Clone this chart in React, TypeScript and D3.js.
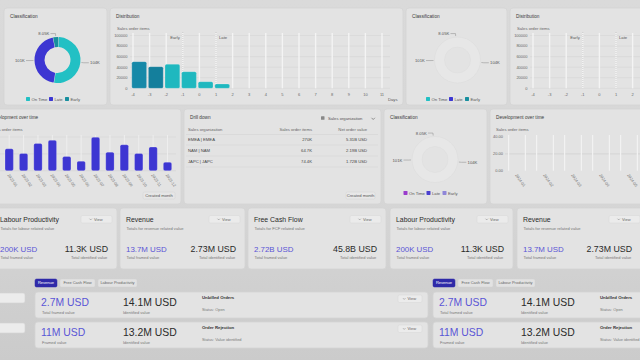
import React from "react";
import * as d3 from "d3";

const FONT = "'Liberation Sans', Arial, Helvetica, sans-serif";

// ---------- data ----------
const classLabels = ["On Time", "Late", "Early"];
const classValues = [104000, 88900, 8050];
const classValueText = ["104K", "101K", "8.05K"];

const distDays = [-4, -3, -2, -1, 0, 1];
const distItems = [50500, 41000, 45500, 31500, 12500, 8200];
const distTickDays = [-4, -3, -2, -1, 0, 1, 2, 3, 4, 5, 6, 7, 8, 9, 10, 11];
const distYTicks = [0, 20000, 40000, 60000, 80000, 100000];
const distMarkers = ["Early", "Late"];
const distMarkerDays = [-1, 1];

const devMonths = ["2023-01", "2023-02", "2023-03", "2023-04", "2023-05", "2023-06", "2023-07", "2023-08", "2023-09", "2023-10", "2023-11", "2023-12"];
const devItems = [26, 20.4, 32.4, 36, 16.8, 11.2, 39.6, 22, 30.8, 20.4, 28, 10];
const devYTicks = [0, 20, 40];
const ghostMonths = ["2024-01", "2024-02", "2024-03", "2024-04", "2024-05"];

const drillHeaders = ["Sales organization", "Sales order items", "Net order value"];
const drillOrgs = ["EMEA | EMEA", "NAM | NAM", "JAPC | JAPC"];
const drillItems = ["270K", "64.7K", "74.4K"];
const drillValues = ["5.31B USD", "2.19B USD", "1.72B USD"];

const kpiTitles = ["Labour Productivity", "Revenue", "Free Cash Flow", "Labour Productivity", "Revenue"];
const kpiSubtitles = ["Totals for labour related value", "Totals for revenue related value", "Totals for FCF related value", "Totals for labour related value", "Totals for revenue related value"];
const kpiFramed = ["200K USD", "13.7M USD", "2.72B USD", "200K USD", "13.7M USD"];
const kpiIdentified = ["11.3K USD", "2.73M USD", "45.8B USD", "11.3K USD", "2.73M USD"];

const tabLabels = ["Revenue", "Free Cash Flow", "Labour Productivity"];
const orderFramed = ["2.7M USD", "11M USD"];
const orderFramedLabels = ["Total framed value", "Framed value"];
const orderIdentified = ["14.1M USD", "13.2M USD"];
const orderTitles = ["Unbilled Orders", "Order Rejection"];
const orderStatus = ["Status: Open", "Status: Value identified"];

// ---------- styles ----------
const TEAL = "#22c0c4";
const INDIGO = "#3d36d2";
const DTEAL = "#188f9e";
const PANEL = "#e3e3e3";
const PANEL_STROKE = "#d4d4d4";
const TXT = "#3a3a3a";
const SUB = "#777";

function Panel({ x, y, w, h, title }: any) {
  return (
    <g>
      <rect x={x} y={y} width={w} height={h} rx={3} fill={PANEL} stroke={PANEL_STROKE} strokeWidth={0.8} />
      {title ? (
        <text x={x + 6} y={y + 9.5} fontSize={4.7} fill={TXT}>{title}</text>
      ) : null}
    </g>
  );
}

const pie = d3.pie<number>().sort(null).startAngle(0.05).endAngle(0.05 + 2 * Math.PI);
const arcGen = d3.arc<any>().innerRadius(13).outerRadius(23).padAngle(0.015).cornerRadius(0.6);

function Donut({ dx, dy, legendY, ghost, colors }: any) {
  const cx = 57.5 + dx;
  const cy = 60 + dy;
  const arcs = pie(classValues);
  const legendX = [26, 49, 65];
  const order = [2, 1, 0];
  return (
    <g>
      {ghost ? (
        <g>
          <circle cx={cx} cy={cy} r={18} fill="none" stroke="#e7e7e7" strokeWidth={10} />
          <circle cx={cx} cy={cy} r={23} fill="none" stroke="#dadada" strokeWidth={0.5} />
          <circle cx={cx} cy={cy} r={13} fill="none" stroke="#dcdcdc" strokeWidth={0.5} />
        </g>
      ) : (
        arcs.map((a, i) => (
          <path key={i} d={arcGen(a) as string} transform={`translate(${cx},${cy})`} fill={colors[i]} />
        ))
      )}
      {order.map((i) => {
        const a = arcs[i];
        const mid = (a.startAngle + a.endAngle) / 2;
        const s = Math.sin(mid);
        const c = -Math.cos(mid);
        const p1 = [cx + 24 * s, cy + 24 * c];
        const p2 = [cx + 26.5 * s, cy + 26.5 * c];
        const dir = s >= 0 ? 1 : -1;
        const p3 = [p2[0] + dir * 5, p2[1]];
        return (
          <g key={i}>
            <path d={`M${p1[0]},${p1[1]}L${p2[0]},${p2[1]}L${p3[0]},${p3[1]}`} fill="none" stroke="#888" strokeWidth={0.5} />
            <text x={p3[0] + dir * 1.2} y={p3[1] + 1.5} fontSize={4.2} fill="#555" textAnchor={dir > 0 ? "start" : "end"}>{classValueText[i]}</text>
          </g>
        );
      })}
      {classLabels.map((l, i) => (
        <g key={l}>
          <rect x={legendX[i] + dx} y={legendY - 3.6} width={4} height={4} rx={0.6} fill={colors[i]} />
          <text x={legendX[i] + dx + 5.5} y={legendY} fontSize={4.2} fill="#555">{l}</text>
        </g>
      ))}
    </g>
  );
}

function Distribution({ dx, ghost }: any) {
  const x = d3.scaleLinear().domain([-4, 11]).range([133 + dx, 382 + dx]);
  const y = d3.scaleLinear().domain([0, 100000]).range([88.3, 35.5]);
  const ticks = distTickDays.filter((d) => x(d) < 636);
  return (
    <g>
      <text x={117 + dx} y={29.5} fontSize={4.2} fill="#666">Sales order items</text>
      {distYTicks.map((t) => (
        <g key={t}>
          <line x1={130 + dx} x2={Math.min(390 + dx, 640)} y1={y(t)} y2={y(t)} stroke="#d3d3d3" strokeWidth={0.5} />
          <text x={127.5 + dx} y={y(t) + 1.4} fontSize={4} fill="#666" textAnchor="end">{t}</text>
        </g>
      ))}
      {distTickDays.map((d) => (
        <line key={d} x1={x(d)} x2={x(d)} y1={33} y2={88.3} stroke="#f4f4f4" strokeWidth={1.4} />
      ))}
      {ticks.map((d) => (
        <text key={d} x={x(d)} y={96} fontSize={4} fill="#666" textAnchor="middle">{d}</text>
      ))}
      {distMarkers.map((m, i) => (
        <g key={m}>
          <line x1={x(distMarkerDays[i])} x2={x(distMarkerDays[i])} y1={32} y2={88.3} stroke="#b8b8b8" strokeWidth={0.6} strokeDasharray="1,1" />
          <text x={x(distMarkerDays[i]) + (i === 0 ? -3 : 3)} y={39} fontSize={4.2} fill="#555" textAnchor={i === 0 ? "end" : "start"}>{m}</text>
        </g>
      ))}
      {!ghost &&
        distDays.map((d, i) => (
          <rect key={d} x={x(d) - 1.2} y={y(distItems[i])} width={x(d + 1) - x(d) - 1.8} height={y(0) - y(distItems[i])} rx={1.5} fill={i < 2 ? (i === 0 ? "#1689a8" : "#147f9c") : "#1fb8bf"} stroke="#ffffff" strokeOpacity={0.5} strokeWidth={0.4} />
        ))}
      {!ghost && <text x={388 + dx} y={101} fontSize={4.2} fill="#555">Days</text>}
    </g>
  );
}

function DevLeft() {
  const x = d3.scaleBand<string>().domain(devMonths).range([2, 174.7]).paddingInner(0.42).paddingOuter(0.21);
  const y = d3.scaleLinear().domain([0, 40]).range([170.7, 137]);
  return (
    <g>
      <text x={-10} y={131} fontSize={4.2} fill="#666">Sales order items</text>
      {devYTicks.map((t) => (
        <line key={t} x1={0} x2={176} y1={y(t)} y2={y(t)} stroke="#d0d0d0" strokeWidth={0.5} />
      ))}
      {devMonths.map((m, i) => {
        const cx = (x(m) as number) + x.bandwidth() / 2;
        return (
          <g key={m}>
            <line x1={cx} x2={cx} y1={135} y2={170.7} stroke="#eeeeee" strokeWidth={1} />
            <rect x={x(m)} y={y(devItems[i])} width={x.bandwidth()} height={y(0) - y(devItems[i])} rx={1.6} fill={INDIGO} stroke="#ffffff" strokeOpacity={0.5} strokeWidth={0.4} />
            <text transform={`translate(${cx - 2},${175}) rotate(55)`} fontSize={4} fill="#777">{m}</text>
          </g>
        );
      })}
      <rect x={143} y={192} width={32} height={7} rx={1.5} fill="#e6e6e6" stroke="#d2d2d2" strokeWidth={0.5} />
      <text x={159} y={196.8} fontSize={4.2} fill="#555" textAnchor="middle">Created month</text>
    </g>
  );
}

function DevGhost() {
  const x = d3.scaleBand<string>().domain(ghostMonths).range([503, 643]).paddingInner(0.4).paddingOuter(0.2);
  const y = d3.scaleLinear().domain([0, 40]).range([170.7, 137]);
  return (
    <g>
      <text x={496} y={131} fontSize={4.2} fill="#666">Sales order items</text>
      {devYTicks.map((t) => (
        <g key={t}>
          {t === 20 && <line x1={505} x2={640} y1={y(t)} y2={y(t)} stroke="#c9c9c9" strokeWidth={0.5} />}
          <text x={503} y={y(t) + 1.4} fontSize={4} fill="#666" textAnchor="end">{t.toFixed(2)}</text>
        </g>
      ))}
      {ghostMonths.map((m) => {
        const x0 = x(m) as number;
        const cx = x0 + x.bandwidth() / 2;
        return (
          <g key={m}>
            <line x1={x0} x2={x0} y1={135} y2={170.7} stroke="#f2f2f2" strokeWidth={1.2} />
            <line x1={x0 + x.bandwidth()} x2={x0 + x.bandwidth()} y1={135} y2={170.7} stroke="#f2f2f2" strokeWidth={1.2} />
            <text transform={`translate(${cx - 2},${175}) rotate(55)`} fontSize={4} fill="#777">{m}</text>
          </g>
        );
      })}
    </g>
  );
}

function Drill() {
  const colX = [188, 312, 367];
  const rowY = [141, 152, 163];
  return (
    <g>
      <rect x={321} y={116.3} width={3.5} height={3.5} rx={0.5} fill="#888" />
      <text x={328} y={119.5} fontSize={4.2} fill="#555">Sales organization</text>
      <path d="M371.5,117.8 L373.2,119.5 L374.9,117.8" fill="none" stroke="#555" strokeWidth={0.6} />
      <text x={colX[0]} y={131} fontSize={4.2} fill="#666">{drillHeaders[0]}</text>
      <text x={colX[1]} y={131} fontSize={4.2} fill="#666" textAnchor="end">{drillHeaders[1]}</text>
      <text x={colX[2]} y={131} fontSize={4.2} fill="#666" textAnchor="end">{drillHeaders[2]}</text>
      <line x1={186} x2={378} y1={134.5} y2={134.5} stroke="#d0d0d0" strokeWidth={0.5} />
      {drillOrgs.map((o, i) => (
        <g key={o}>
          <text x={colX[0]} y={rowY[i]} fontSize={4.2} fill="#444">{o}</text>
          <text x={colX[1]} y={rowY[i]} fontSize={4.2} fill="#444" textAnchor="end">{drillItems[i]}</text>
          <text x={colX[2]} y={rowY[i]} fontSize={4.2} fill="#444" textAnchor="end">{drillValues[i]}</text>
          <line x1={186} x2={378} y1={rowY[i] + 4} y2={rowY[i] + 4} stroke="#d3d3d3" strokeWidth={0.5} />
        </g>
      ))}
      <rect x={346} y={192} width={29} height={7} rx={1.5} fill="#e8e8e8" stroke="#d2d2d2" strokeWidth={0.5} />
      <text x={360.5} y={196.8} fontSize={4.2} fill="#555" textAnchor="middle">Created month</text>
    </g>
  );
}

function ViewButton({ x, y, w }: any) {
  return (
    <g>
      <rect x={x} y={y} width={w} height={7.5} rx={1.5} fill="#ebebeb" stroke="#d6d6d6" strokeWidth={0.5} />
      <path d={`M${x + w / 2 - 7},${y + 3.2} L${x + w / 2 - 5.8},${y + 4.4} L${x + w / 2 - 4.6},${y + 3.2}`} fill="none" stroke="#777" strokeWidth={0.5} />
      <text x={x + w / 2 - 2.5} y={y + 5.1} fontSize={4} fill="#666">View</text>
    </g>
  );
}

function KpiRow() {
  const xs = [-6, 120, 248, 390, 517];
  const ws = [123, 125, 138, 123, 128];
  return (
    <g>
      {kpiTitles.map((t, i) => {
        const x0 = xs[i];
        const w = ws[i];
        const right = Math.min(x0 + w - 9, 632);
        return (
          <g key={i}>
            <rect x={x0} y={208} width={w} height={61} rx={3} fill={PANEL} stroke={PANEL_STROKE} strokeWidth={0.8} />
            <text x={x0 + 6} y={222} fontSize={6.9} fill="#2a2a2a">{t}</text>
            <text x={x0 + 6.5} y={230} fontSize={4.1} fill={SUB}>{kpiSubtitles[i]}</text>
            <ViewButton x={x0 + w - 36} y={215.5} w={31} />
            <text x={x0 + 6} y={251.5} fontSize={7.9} fill="#5a55d6">{kpiFramed[i]}</text>
            <text x={x0 + 6.5} y={259} fontSize={4} fill={SUB}>Total framed value</text>
            <text x={right} y={251.5} fontSize={8.8} fill="#2a2a2a" textAnchor="end">{kpiIdentified[i]}</text>
            <text x={right - 37} y={259} fontSize={4} fill={SUB}>Total identified value</text>
          </g>
        );
      })}
    </g>
  );
}

function OrderGroup({ gx, right }: any) {
  const tabW = [22, 35, 39];
  let tx = gx;
  const tabs = tabLabels.map((l, i) => {
    const x0 = tx;
    tx += tabW[i] + 3;
    return (
      <g key={l}>
        <rect x={x0} y={279} width={tabW[i]} height={8} rx={1.5} fill={i === 0 ? "#2f2aa8" : "#e2e2e2"} stroke={i === 0 ? "#2f2aa8" : "#d0d0d0"} strokeWidth={0.5} />
        <text x={x0 + tabW[i] / 2} y={284.3} fontSize={4} fill={i === 0 ? "#ffffff" : "#666"} textAnchor="middle">{l}</text>
      </g>
    );
  });
  const rowY = [292, 322];
  return (
    <g>
      {tabs}
      {orderFramed.map((v, i) => (
        <g key={i}>
          <rect x={gx} y={rowY[i]} width={right - gx} height={26} rx={3} fill={PANEL} stroke={PANEL_STROKE} strokeWidth={0.8} />
          <text x={gx + 6} y={rowY[i] + 13.5} fontSize={10.4} fill="#5a55d6">{v}</text>
          <text x={gx + 7} y={rowY[i] + 21.5} fontSize={4} fill={SUB}>{orderFramedLabels[i]}</text>
          <text x={gx + 88} y={rowY[i] + 13.5} fontSize={10.4} fill="#2a2a2a">{orderIdentified[i]}</text>
          <text x={gx + 88} y={rowY[i] + 21.5} fontSize={4} fill={SUB}>Identified value</text>
          <text x={gx + 167} y={rowY[i] + 6.5} fontSize={4.3} fill="#333" fontWeight={700}>{orderTitles[i]}</text>
          <text x={gx + 167} y={rowY[i] + 19} fontSize={3.9} fill={SUB}>{orderStatus[i]}</text>
          {right < 600 && <ViewButton x={right - 30} y={rowY[i] + 3} w={24} />}
        </g>
      ))}
    </g>
  );
}

export default function App() {
  return (
    <div style={{ position: "fixed", left: 0, top: 0, width: 640, height: 360, overflow: "hidden" }}>
      <svg width={640} height={360} viewBox="0 0 640 360" style={{ display: "block", fontFamily: FONT }}>
        <defs>
          <linearGradient id="bg" x1="0" y1="0" x2="0" y2="1">
            <stop offset="0" stopColor="#dadada" />
            <stop offset="0.55" stopColor="#d6d6d6" />
            <stop offset="1" stopColor="#cbcbcb" />
          </linearGradient>
        </defs>
        <rect x={0} y={0} width={640} height={360} fill="url(#bg)" />

        {/* Row 1 */}
        <Panel x={4} y={8} w={103} h={97} title="Classification" />
        <Donut dx={0} dy={0} legendY={100.5} ghost={false} colors={[TEAL, INDIGO, DTEAL]} />
        <Panel x={110} y={8} w={293} h={97} title="Distribution" />
        <Distribution dx={0} ghost={false} />
        <Panel x={406} y={8} w={101} h={97} title="Classification" />
        <Donut dx={400} dy={0} legendY={100.5} ghost={true} colors={[TEAL, INDIGO, DTEAL]} />
        <Panel x={510} y={8} w={140} h={97} title="Distribution" />
        <Distribution dx={400} ghost={true} />

        {/* Row 2 */}
        <Panel x={-20} y={109} w={201} h={95} />
        <text x={-10} y={118.5} fontSize={4.7} fill={TXT}>Development over time</text>
        <DevLeft />
        <Panel x={184} y={109} w={197} h={95} title="Drill down" />
        <Drill />
        <Panel x={384} y={109} w={103} h={95} title="Classification" />
        <Donut dx={377.5} dy={99.5} legendY={194.5} ghost={true} colors={["#9a3ccc", "#4a3fcf", "#8f86d8"]} />
        <Panel x={490} y={109} w={160} h={95} title="Development over time" />
        <DevGhost />

        {/* Row 3 */}
        <KpiRow />

        {/* Row 4 */}
        <rect x={-5} y={293} width={30} height={10} rx={2} fill="#ececec" stroke={PANEL_STROKE} strokeWidth={0.6} />
        <rect x={-5} y={323} width={30} height={10} rx={2} fill="#ececec" stroke={PANEL_STROKE} strokeWidth={0.6} />
        <OrderGroup gx={35} right={428} />
        <OrderGroup gx={433} right={650} />
      </svg>
    </div>
  );
}
